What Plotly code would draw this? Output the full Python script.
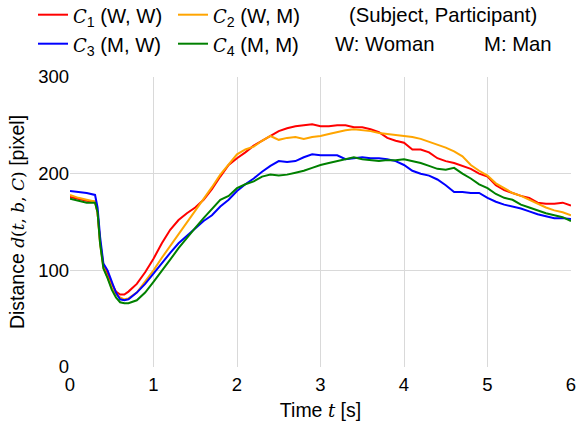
import plotly.graph_objects as go

# ---- data ----
time_s = [0.0, 0.1, 0.2, 0.3, 0.33, 0.36, 0.4, 0.45, 0.5, 0.55, 0.6, 0.65, 0.7,
          0.8, 0.9, 1.0, 1.1, 1.2, 1.3, 1.4, 1.5, 1.6, 1.7, 1.8, 1.9, 2.0,
          2.1, 2.2, 2.3, 2.4, 2.5, 2.6, 2.7, 2.8, 2.9, 3.0,
          3.1, 3.2, 3.3, 3.4, 3.5, 3.6, 3.7, 3.8, 3.9, 4.0,
          4.1, 4.2, 4.3, 4.4, 4.5, 4.6, 4.7, 4.8, 4.9, 5.0,
          5.1, 5.2, 5.3, 5.4, 5.5, 5.6, 5.7, 5.8, 5.9, 6.0]

c1_ww = [176, 174, 172, 171, 160, 130, 105, 96, 86, 78, 75, 75, 78,
         86, 98, 112, 128, 142, 152, 159, 165, 173, 184, 197, 209, 216,
         222, 229, 234, 239, 244, 247, 249, 250, 251, 249,
         249, 250, 250, 248, 248, 246, 243, 237, 234, 232,
         225, 225, 222, 216, 213, 211, 208, 205, 200, 197,
         188, 183, 180, 177, 175, 170, 169, 169, 170, 167]

c2_wm = [178, 175, 173, 171, 160, 128, 103, 92, 82, 75, 72, 70, 71,
         77, 88, 100, 113, 125, 137, 149, 161, 173, 186, 199, 210, 220,
         225, 228, 234, 239, 235, 237, 238, 236, 238, 239,
         241, 243, 245, 246, 245, 244, 242, 241, 240, 239,
         238, 236, 233, 230, 227, 223, 218, 209, 203, 198,
         190, 185, 180, 177, 173, 169, 165, 162, 160, 157]

c3_mw = [182, 181, 180, 178, 165, 135, 107, 100, 88, 77, 70, 69, 70,
         77, 86, 97, 108, 118, 128, 136, 144, 151, 157, 166, 173, 182,
         189, 195, 202, 208, 213, 212, 213, 217, 220, 219,
         219, 219, 215, 216, 217, 216, 216, 215, 213, 209,
         203, 200, 198, 194, 188, 181, 181, 180, 180, 175,
         171, 168, 166, 164, 161, 158, 156, 154, 154, 153]

c4_mm = [174, 172, 170, 170, 160, 128, 102, 92, 80, 72, 67, 66, 66,
         69, 77, 88, 99, 111, 123, 134, 144, 154, 163, 173, 177, 185,
         189, 192, 197, 199, 198, 199, 201, 203, 206, 209,
         211, 213, 215, 217, 215, 214, 213, 214, 214, 215,
         213, 211, 208, 205, 204, 206, 200, 195, 189, 185,
         179, 175, 173, 168, 165, 162, 159, 157, 155, 151]

x_ticks = [0, 1, 2, 3, 4, 5, 6]
y_ticks = [0, 100, 200, 300]

SANS = "Liberation Sans, Arial, sans-serif"
TXT = 20.3


def m(s, size=18):
    return ('<span style="font-family:DejaVu Serif;font-style:italic;font-size:%spx">' % size
            + s + '</span>')


def mp(s, size=18):
    return '<span style="font-family:DejaVu Serif;font-size:%spx">' % size + s + '</span>'


W, H = 576, 421
L, R, T, B = 70, 5, 77, 54
pw = W - L - R
ph = H - T - B


def px2paper(x):
    return (x - L) / pw


def py2paper(y):
    return (H - B - y) / ph


# name, values, colour, legend id, legend left (px), legend row centre (px)
series = [
    (m("C") + "<sub>1</sub> (W, W)", c1_ww, "#ff0000", "legend", 33, 15),
    (m("C") + "<sub>2</sub> (W, M)", c2_wm, "#ffa500", "legend2", 173, 15),
    (m("C") + "<sub>3</sub> (M, W)", c3_mw, "#0000ff", "legend3", 33, 44),
    (m("C") + "<sub>4</sub> (M, M)", c4_mm, "#008000", "legend4", 173, 44),
]

fig = go.Figure()
legends = {}
for name, vals, col, lg, lx, ly in series:
    fig.add_trace(go.Scatter(x=time_s, y=vals, mode="lines", name=name, showlegend=True,
                             line=dict(color=col, width=2), legend=lg))
    legends[lg] = dict(orientation="h", xanchor="left", yanchor="middle",
                       x=px2paper(lx), y=py2paper(ly),
                       font=dict(family=SANS, size=TXT, color="#000"),
                       bgcolor="rgba(0,0,0,0)", itemwidth=30,
                       tracegroupgap=0, itemclick=False, visible=True)

fig.update_layout(
    width=W, height=H, showlegend=True,
    margin=dict(l=L, r=R, t=T, b=B, autoexpand=False),
    paper_bgcolor="white", plot_bgcolor="white",
    font=dict(family=SANS, size=TXT, color="#000"),
    xaxis=dict(range=[0, 6], tickvals=x_ticks, ticks="", showline=False,
               gridcolor="#d9d9d9", gridwidth=1, zeroline=False,
               tickfont=dict(size=18.5), ticklabeloverflow="allow",
               ticklabelstandoff=4,
               title=dict(text="Time " + m("t") + " [s]", standoff=11,
                          font=dict(size=19.5))),
    yaxis=dict(range=[0, 300], tickvals=y_ticks, ticks="", showline=False,
               gridcolor="#d9d9d9", gridwidth=1, zeroline=False,
               tickfont=dict(size=18.5), ticklabeloverflow="allow",
               title=dict(text="Distance " + m("d", 17) + mp("(", 17) + m("t", 17) + mp(", ", 17)
                          + m("b", 17) + mp(", ", 17) + m("C", 17) + mp(")", 17) + " [pixel]",
                          standoff=8, font=dict(size=19.5))),
    annotations=[
        dict(text="(Subject, Participant)", x=px2paper(347), y=py2paper(15),
             xref="paper", yref="paper", xanchor="left", yanchor="middle",
             showarrow=False, font=dict(size=TXT)),
        dict(text="W: Woman", x=px2paper(333), y=py2paper(44),
             xref="paper", yref="paper", xanchor="left", yanchor="middle",
             showarrow=False, font=dict(size=TXT)),
        dict(text="M: Man", x=px2paper(482), y=py2paper(44),
             xref="paper", yref="paper", xanchor="left", yanchor="middle",
             showarrow=False, font=dict(size=TXT)),
    ],
    **legends,
)

fig.write_html("out.html", config={"displayModeBar": False},
               post_script="document.body.style.margin='0';")
